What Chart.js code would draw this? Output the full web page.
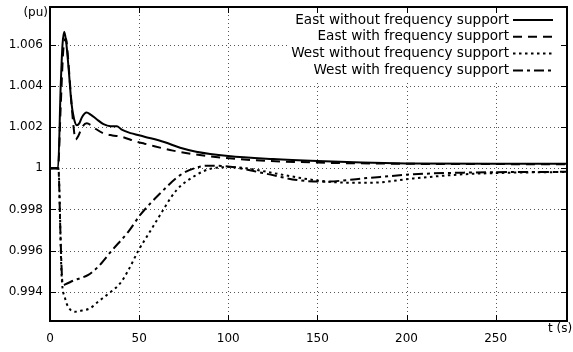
<!DOCTYPE html>
<html>
<head>
<meta charset="utf-8">
<script src="https://cdn.jsdelivr.net/npm/chart.js@4/dist/chart.umd.min.js"></script>
<style>
  html, body { margin: 0; padding: 0; background: #fff; }
  #wrap { width: 573px; height: 352px; }
</style>
</head>
<body>
<div id="wrap"><canvas id="freqChart" width="573" height="352"></canvas></div>
<script>
// tick labels
const xTicks = [0, 50, 100, 150, 200, 250];
const yTicks = [0.994, 0.996, 0.998, 1, 1.002, 1.004, 1.006];

// East without frequency support (solid)
const tEastNo = [0, 4.5, 6, 7, 8, 9, 10.5, 12, 13.5, 15, 16.5, 18, 20.5, 23, 26, 30, 34, 37.5, 40, 44, 53, 64, 73, 82, 100, 125, 150, 175, 200, 250, 290];
const eastNo = [1, 1, 1.004, 1.006, 1.00665, 1.0062, 1.0048, 1.0032, 1.0024, 1.0021, 1.0022, 1.0025, 1.00272, 1.0026, 1.0024, 1.00215, 1.00205, 1.00205, 1.0019, 1.00175, 1.00154, 1.00128, 1.001, 1.00081, 1.0006, 1.00045, 1.00035, 1.00028, 1.00024, 1.00022, 1.00022];

// East with frequency support (dashed)
const tEastSup = [0, 4.5, 6, 7.5, 9, 10, 11.5, 13, 14.4, 16, 18, 20.6, 23, 26, 30, 35, 40, 48.7, 53, 69, 91.7, 114, 150, 200, 290];
const eastSup = [1, 1, 1.003, 1.0058, 1.0063, 1.0055, 1.0038, 1.0022, 1.0014, 1.0016, 1.002, 1.00219, 1.0021, 1.0019, 1.0017, 1.0016, 1.00154, 1.00129, 1.0012, 1.00086, 1.00056, 1.0004, 1.00028, 1.00022, 1.0002];

// West without frequency support (dotted)
const tWestNo = [0, 4.7, 6.5, 8.4, 10.3, 14, 18, 22.5, 27, 31.8, 39.3, 44, 49.6, 56, 60, 71, 82, 90, 101, 110, 129, 148, 167, 180, 204, 232, 260, 290];
const westNo = [1, 1, 0.9948, 0.9937, 0.99325, 0.99302, 0.99308, 0.99319, 0.99351, 0.99383, 0.9944, 0.99505, 0.996, 0.99691, 0.99748, 0.99894, 0.99967, 0.99998, 1.00006, 1, 0.99971, 0.99943, 0.9993, 0.9993, 0.99951, 0.99971, 0.99979, 0.99982];

// West with frequency support (dash-dot)
const tWestSup = [0, 4.7, 5.8, 6.8, 7.5, 8.5, 14, 16.9, 21.5, 27, 34.7, 44, 50.6, 61.8, 73, 84, 90, 101, 120, 138.6, 153.5, 176, 204, 232, 290];
const westSup = [1, 1, 0.997, 0.9946, 0.99432, 0.99435, 0.99457, 0.99465, 0.99481, 0.99521, 0.996, 0.99692, 0.99773, 0.99878, 0.99967, 1.00008, 1.00013, 1.00008, 0.99976, 0.99943, 0.99935, 0.99951, 0.99971, 0.99979, 0.99983];

const seriesNames = ["East without frequency support", "East with frequency support",
                     "West without frequency support", "West with frequency support"];
const dashes = [[], [9, 6], [2.5, 3.5], [10, 4, 3, 4]];

const FONT = "DejaVu Sans";

function pts(ts, vs) {
  return ts.map((t, i) => ({ x: t, y: vs[i] }));
}

// gnuplot style frame, dotted grid, inward ticks and key
const gnuFrame = {
  id: "gnuFrame",
  beforeDatasetsDraw(chart) {
    const { ctx, chartArea: a, scales: { x, y } } = chart;
    ctx.save();
    ctx.strokeStyle = "#555";
    ctx.lineWidth = 1;
    ctx.setLineDash([1, 3]);
    xTicks.forEach(v => {
      if (v === 0) return;
      const px = Math.round(x.getPixelForValue(v)) + 0.5;
      ctx.beginPath(); ctx.moveTo(px, a.top); ctx.lineTo(px, a.bottom); ctx.stroke();
    });
    yTicks.forEach(v => {
      const py = Math.round(y.getPixelForValue(v)) + 0.5;
      ctx.beginPath(); ctx.moveTo(a.left, py); ctx.lineTo(a.right, py); ctx.stroke();
    });
    ctx.setLineDash([]);
    // key background
    ctx.fillStyle = "#fff";
    ctx.fillRect(a.right - 280, a.top + 6, 274, 68);
    ctx.restore();
  },
  afterDatasetsDraw(chart) {
    const { ctx, chartArea: a, scales: { x, y } } = chart;
    const L = Math.round(a.left), R = Math.round(a.right);
    const T = Math.round(a.top), B = Math.round(a.bottom);
    ctx.save();
    ctx.setLineDash([]);
    ctx.fillStyle = "#000";
    // frame
    ctx.fillRect(L - 1, T - 1, R - L + 2, 2);
    ctx.fillRect(L - 1, B - 1, R - L + 2, 2);
    ctx.fillRect(L - 1, T - 1, 2, B - T + 2);
    ctx.fillRect(R - 1, T - 1, 2, B - T + 2);
    // inward ticks on all four sides
    const tl = 6;
    xTicks.forEach(v => {
      const px = Math.round(x.getPixelForValue(v));
      ctx.fillRect(px, B - tl, 1, tl);
      ctx.fillRect(px, T, 1, tl);
    });
    yTicks.forEach(v => {
      const py = Math.round(y.getPixelForValue(v));
      ctx.fillRect(L, py, tl, 1);
      ctx.fillRect(R - tl, py, tl, 1);
    });

    // key
    ctx.strokeStyle = "#000";
    ctx.font = "13.6px '" + FONT + "'";
    ctx.textAlign = "right";
    ctx.textBaseline = "middle";
    const textRight = R - 58;
    const sx0 = R - 54, sx1 = R - 14;
    seriesNames.forEach((name, i) => {
      const ry = T + 13 + i * 16.8;
      ctx.fillText(name, textRight, ry);
      ctx.lineWidth = 2;
      ctx.setLineDash(dashes[i]);
      ctx.beginPath(); ctx.moveTo(sx0, ry); ctx.lineTo(sx1, ry); ctx.stroke();
    });
    ctx.setLineDash([]);

    // axis titles
    ctx.font = "12px '" + FONT + "'";
    ctx.textAlign = "right";
    ctx.fillText("(pu)", L - 2, T + 6);
    ctx.textAlign = "left";
    ctx.fillText("t (s)", R - 19, B + 8);
    ctx.restore();
  }
};

const ctx = document.getElementById("freqChart").getContext("2d");
const freqChart = new Chart(ctx, {
  type: "line",
  data: {
    datasets: [
      { label: seriesNames[0], data: pts(tEastNo, eastNo), borderDash: dashes[0] },
      { label: seriesNames[1], data: pts(tEastSup, eastSup), borderDash: dashes[1] },
      { label: seriesNames[2], data: pts(tWestNo, westNo), borderDash: dashes[2] },
      { label: seriesNames[3], data: pts(tWestSup, westSup), borderDash: dashes[3] }
    ].map(d => Object.assign(d, {
      borderColor: "#000",
      borderWidth: 2,
      pointRadius: 0,
      fill: false,
      cubicInterpolationMode: "monotone"
    }))
  },
  options: {
    responsive: false,
    animation: false,
    devicePixelRatio: 1,
    layout: { padding: { top: 7, right: 6, bottom: 0, left: 0 } },
    plugins: { legend: { display: false }, tooltip: { enabled: false } },
    scales: {
      x: {
        type: "linear",
        min: 0,
        max: 290,
        afterBuildTicks: s => { s.ticks = xTicks.map(v => ({ value: v })); },
        afterFit: s => { s.height = 31; s.paddingLeft = 0; s.paddingRight = 0; },
        grid: { display: false, drawTicks: false },
        border: { display: false },
        ticks: { color: "#000", font: { family: FONT, size: 12 }, padding: 11, maxRotation: 0, autoSkip: false }
      },
      y: {
        type: "linear",
        min: 0.99257,
        max: 1.00785,
        afterBuildTicks: s => { s.ticks = yTicks.map(v => ({ value: v })); },
        afterFit: s => { s.width = 50; s.paddingTop = 0; s.paddingBottom = 0; },
        grid: { display: false, drawTicks: false },
        border: { display: false },
        ticks: {
          color: "#000",
          font: { family: FONT, size: 12 },
          padding: 7,
          autoSkip: false,
          callback: v => String(+Number(v).toFixed(3))
        }
      }
    }
  },
  plugins: [gnuFrame]
});
</script>
</body>
</html>
